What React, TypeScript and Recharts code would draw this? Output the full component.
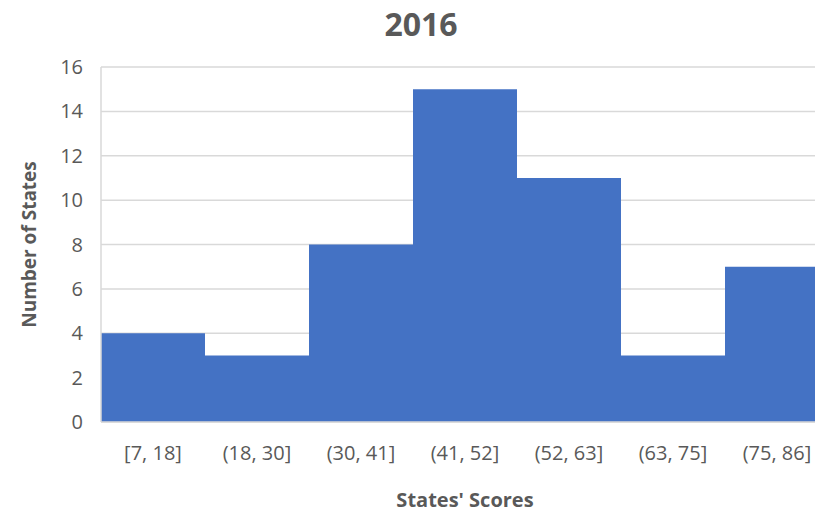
import React from "react";
import { BarChart, Bar, XAxis, YAxis, CartesianGrid, Label } from "recharts";

const categories = ["[7, 18]", "(18, 30]", "(30, 41]", "(41, 52]", "(52, 63]", "(63, 75]", "(75, 86]"];
const counts = [4, 3, 8, 15, 11, 3, 7];
const yTicks = [0, 2, 4, 6, 8, 10, 12, 14, 16];
const title = "2016";
const xTitle = "States' Scores";
const yTitle = "Number of States";

const data = categories.map((c, i) => ({ bin: c, count: counts[i] }));

const FONT = "'Open Sans', sans-serif";
const TEXT = "#595959";

const YLabel = (props: any) => {
  const { x, y, height } = props.viewBox;
  const cx = x + 29;
  const cy = y + height / 2;
  return (
    <text
      x={cx}
      y={cy}
      transform={`rotate(-90 ${cx} ${cy})`}
      textAnchor="middle"
      dominantBaseline="central"
      fill={TEXT}
      fontFamily={FONT}
      fontWeight="bold"
      fontSize={19}
    >
      {yTitle}
    </text>
  );
};

const XLabel = (props: any) => {
  const { x, y, width } = props.viewBox;
  return (
    <text
      x={x + width / 2}
      y={y + 85}
      textAnchor="middle"
      fill={TEXT}
      fontFamily={FONT}
      fontWeight="bold"
      fontSize={20}
    >
      {xTitle}
    </text>
  );
};

export default function App() {
  return (
    <div style={{ position: "absolute", left: 0, top: 0, width: 815, height: 512, overflow: "hidden", background: "#fff" }}>
      <div
        style={{
          position: "absolute",
          left: 0,
          top: 4,
          width: 842,
          textAlign: "center",
          fontFamily: FONT,
          fontWeight: "bold",
          fontSize: 32,
          color: TEXT,
          lineHeight: "40px",
        }}
      >
        {title}
      </div>
      <BarChart
        width={842}
        height={512}
        data={data}
        margin={{ top: 67, right: 13, left: 0, bottom: 0 }}
        barCategoryGap={0}
        barGap={0}
      >
        <CartesianGrid vertical={false} stroke="#D9D9D9" strokeWidth={1.5} />
        <XAxis
          dataKey="bin"
          height={90}
          axisLine={{ stroke: "#D9D9D9", strokeWidth: 1.5 }}
          tickLine={false}
          tickSize={0}
          tickMargin={24}
          tick={{ fill: TEXT, fontFamily: FONT, fontSize: 20 }}
          interval={0}
        >
          <Label content={<XLabel />} />
        </XAxis>
        <YAxis
          width={101}
          domain={[0, 16]}
          ticks={yTicks}
          interval={0}
          axisLine={{ stroke: "#D9D9D9", strokeWidth: 1.5 }}
          tickLine={false}
          tickSize={0}
          tickMargin={18}
          tick={{ fill: TEXT, fontFamily: FONT, fontSize: 20 }}
        >
          <Label content={<YLabel />} />
        </YAxis>
        <Bar dataKey="count" fill="#4472C4" isAnimationActive={false} />
      </BarChart>
    </div>
  );
}
